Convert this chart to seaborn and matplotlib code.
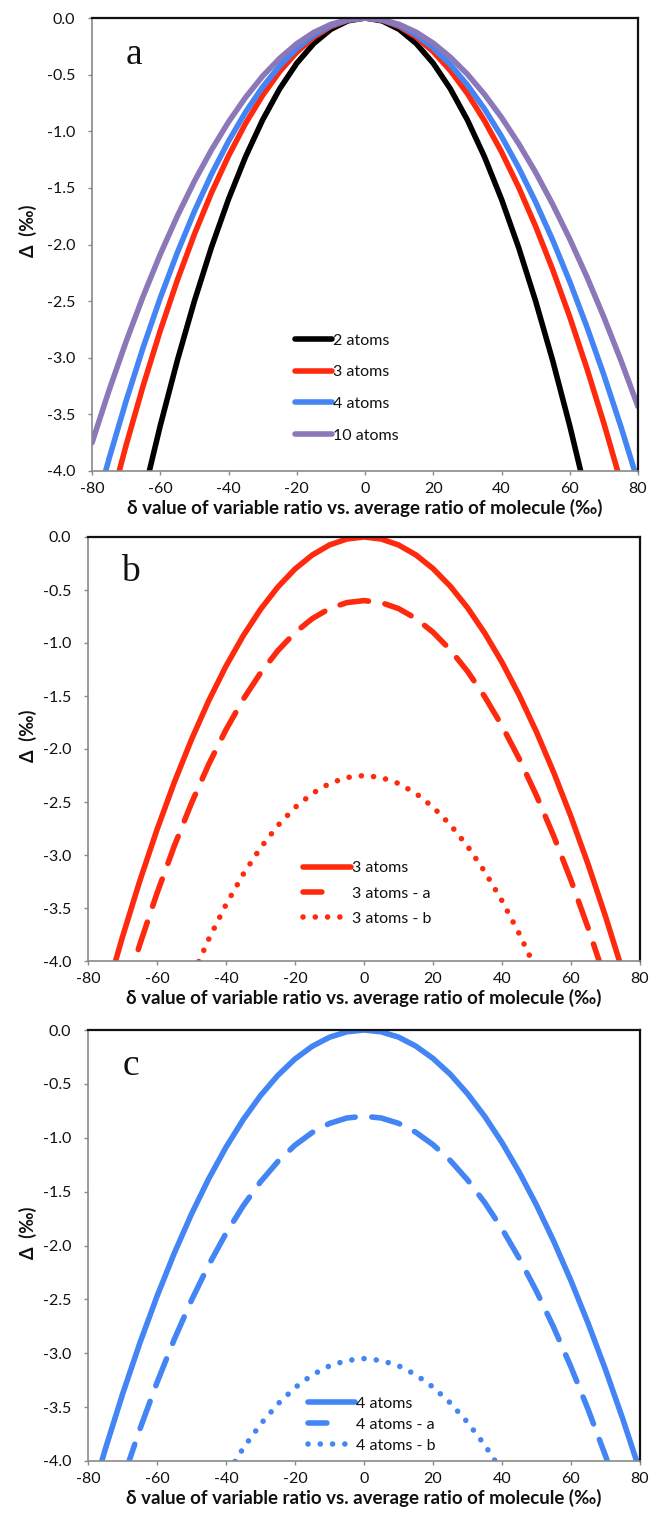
import matplotlib
matplotlib.use("Agg")
import matplotlib.pyplot as plt
import seaborn as sns
import pandas as pd

# delta of the variable ratio vs. the molecule's average ratio (permil)
delta = [-80, -75, -70, -65, -60, -55, -50, -45, -40, -35, -30, -25, -20, -15, -10, -5,
         0, 5, 10, 15, 20, 25, 30, 35, 40, 45, 50, 55, 60, 65, 70, 75, 80]

# Panel a: Delta (permil) for molecules with different numbers of atoms
atoms_2 = [-6.400, -5.625, -4.900, -4.225, -3.600, -3.025, -2.500, -2.025, -1.600, -1.225,
           -0.900, -0.625, -0.400, -0.225, -0.100, -0.025, 0.000, -0.025, -0.100, -0.225,
           -0.400, -0.625, -0.900, -1.225, -1.600, -2.025, -2.500, -3.025, -3.600, -4.225,
           -4.900, -5.625, -6.400]
atoms_3 = [-4.944, -4.337, -3.772, -3.246, -2.761, -2.316, -1.910, -1.544, -1.218, -0.931,
           -0.683, -0.473, -0.302, -0.170, -0.075, -0.019, 0.000, -0.019, -0.075, -0.168,
           -0.298, -0.464, -0.667, -0.907, -1.182, -1.493, -1.840, -2.222, -2.639, -3.092,
           -3.579, -4.100, -4.656]
atoms_4 = [-4.437, -3.891, -3.381, -2.908, -2.472, -2.072, -1.708, -1.380, -1.088, -0.831,
           -0.609, -0.422, -0.269, -0.151, -0.067, -0.017, 0.000, -0.017, -0.066, -0.149,
           -0.264, -0.411, -0.591, -0.802, -1.045, -1.320, -1.625, -1.961, -2.328, -2.725,
           -3.152, -3.609, -4.096]
atoms_10 = [-3.751, -3.288, -2.856, -2.456, -2.087, -1.749, -1.442, -1.165, -0.918, -0.701,
            -0.513, -0.356, -0.227, -0.127, -0.056, -0.014, 0.000, -0.014, -0.056, -0.125,
            -0.222, -0.346, -0.496, -0.674, -0.878, -1.108, -1.363, -1.645, -1.952, -2.284,
            -2.642, -3.024, -3.430]

# Panel b: 3-atom cases
atoms_3a = [-5.544, -4.937, -4.372, -3.846, -3.361, -2.916, -2.510, -2.144, -1.818, -1.531,
            -1.283, -1.073, -0.902, -0.770, -0.675, -0.619, -0.600, -0.619, -0.675, -0.768,
            -0.898, -1.064, -1.267, -1.507, -1.782, -2.093, -2.440, -2.822, -3.239, -3.692,
            -4.179, -4.700, -5.256]
atoms_3b = [-7.194, -6.587, -6.022, -5.496, -5.011, -4.566, -4.160, -3.794, -3.468, -3.181,
            -2.933, -2.723, -2.552, -2.420, -2.325, -2.269, -2.250, -2.269, -2.325, -2.418,
            -2.548, -2.714, -2.917, -3.157, -3.432, -3.743, -4.090, -4.472, -4.889, -5.342,
            -5.829, -6.350, -6.906]

# Panel c: 4-atom cases
atoms_4a = [-5.237, -4.691, -4.181, -3.708, -3.272, -2.872, -2.508, -2.180, -1.888, -1.631,
            -1.409, -1.222, -1.069, -0.951, -0.867, -0.817, -0.800, -0.817, -0.866, -0.949,
            -1.064, -1.211, -1.391, -1.602, -1.845, -2.120, -2.425, -2.761, -3.128, -3.525,
            -3.952, -4.409, -4.896]
atoms_4b = [-7.487, -6.941, -6.431, -5.958, -5.522, -5.122, -4.758, -4.430, -4.138, -3.881,
            -3.659, -3.472, -3.319, -3.201, -3.117, -3.067, -3.050, -3.067, -3.116, -3.199,
            -3.314, -3.461, -3.641, -3.852, -4.095, -4.370, -4.675, -5.011, -5.378, -5.775,
            -6.202, -6.659, -7.146]

x_ticks = [-80, -60, -40, -20, 0, 20, 40, 60, 80]
y_ticks = [0.0, -0.5, -1.0, -1.5, -2.0, -2.5, -3.0, -3.5, -4.0]
panel_letters = ["a", "b", "c"]
x_label = "δ value of variable ratio vs. average ratio of molecule (‰)"
y_label = "Δ  (‰)"

BLACK = "#000000"
RED = "#FF2A0D"
BLUE = "#4385F5"
PURPLE = "#8C78B8"

LW = 4.0
SOLID = "-"
DASHED = (0, (5.2, 3.0))
DOTTED = (0, (0.01, 2.2))
# a single short dash for the legend key of dashed series
DASHED_KEY = (0, (3.4, 20))

panels = [
    [("2 atoms", atoms_2, BLACK, SOLID),
     ("3 atoms", atoms_3, RED, SOLID),
     ("4 atoms", atoms_4, BLUE, SOLID),
     ("10 atoms", atoms_10, PURPLE, SOLID)],
    [("3 atoms", atoms_3, RED, SOLID),
     ("3 atoms - a", atoms_3a, RED, DASHED),
     ("3 atoms - b", atoms_3b, RED, DOTTED)],
    [("4 atoms", atoms_4, BLUE, SOLID),
     ("4 atoms - a", atoms_4a, BLUE, DASHED),
     ("4 atoms - b", atoms_4b, BLUE, DOTTED)],
]

sns.set_theme(style="white")
plt.rcParams["font.family"] = ["Lato", "DejaVu Sans"]
plt.rcParams["axes.unicode_minus"] = False

W, H = 651, 1514
fig = plt.figure(figsize=(W / 100, H / 100), dpi=100)

# axes boxes in pixels: left, right, top, bottom
boxes = [(92, 638, 18, 471), (88, 640, 537, 961), (88, 640, 1030, 1461)]
# legend placement (axes fraction of the left/middle of the entries), spacing and handle length
legend_cfg = [
    dict(anchor=(0.372, 0.183), spacing=1.10, hlen=2.3),
    dict(anchor=(0.389, 0.159), spacing=0.70, hlen=3.0),
    dict(anchor=(0.399, 0.084), spacing=0.42, hlen=2.9),
]
YLABEL_X = 37  # pixel column of the y-label's right edge

GREY = "#8a8a8a"
INK = "#111111"

for i, series in enumerate(panels):
    l, r, t, b = boxes[i]
    ax = fig.add_axes([l / W, 1 - b / H, (r - l) / W, (b - t) / H])
    for name, vals, color, ls in series:
        df = pd.DataFrame({"delta": delta, "Delta": vals})
        sns.lineplot(data=df, x="delta", y="Delta", ax=ax, color=color, lw=LW,
                     linestyle=ls, dash_capstyle="round", solid_joinstyle="round",
                     label=name, errorbar=None, estimator=None, sort=False)
    ax.set_xlim(-80, 80)
    ax.set_ylim(-4.0, 0.0)
    ax.set_xticks(x_ticks)
    ax.set_xticklabels([str(v) for v in x_ticks])
    ax.set_yticks(y_ticks)
    ax.set_yticklabels([f"{v:.1f}" for v in y_ticks])
    ax.tick_params(axis="both", which="major", direction="out", length=3, width=1,
                   color=GREY, labelsize=11.5, labelcolor=INK, bottom=True, left=True)
    ax.tick_params(axis="y", pad=9)
    ax.tick_params(axis="x", pad=5)
    for side in ("left", "bottom"):
        ax.spines[side].set_color(GREY)
        ax.spines[side].set_linewidth(1.2)
    for side in ("top", "right"):
        ax.spines[side].set_color(INK)
        ax.spines[side].set_linewidth(1.6)
    ax.set_xlabel(x_label, fontsize=13.5, fontweight="bold", color=INK, labelpad=2)
    ax.set_ylabel(y_label, fontsize=13, fontweight="bold", color=INK)
    ax.yaxis.set_label_coords((YLABEL_X - l) / (r - l), 0.53)
    ax.text(0.077, 0.918, panel_letters[i], transform=ax.transAxes, ha="center",
            va="center", fontsize=27, family=["Liberation Serif", "DejaVu Serif"],
            color=INK)
    cfg = legend_cfg[i]
    leg = ax.legend(loc="center left", bbox_to_anchor=cfg["anchor"], frameon=False,
                    fontsize=11.5, labelspacing=cfg["spacing"], handlelength=cfg["hlen"],
                    handletextpad=0.1, borderpad=0, borderaxespad=0, labelcolor=INK)
    for key, (_, _, _, ls) in zip(leg.get_lines(), series):
        if ls == DASHED:
            key.set_linestyle(DASHED_KEY)

fig.savefig("out.png", dpi=100)
